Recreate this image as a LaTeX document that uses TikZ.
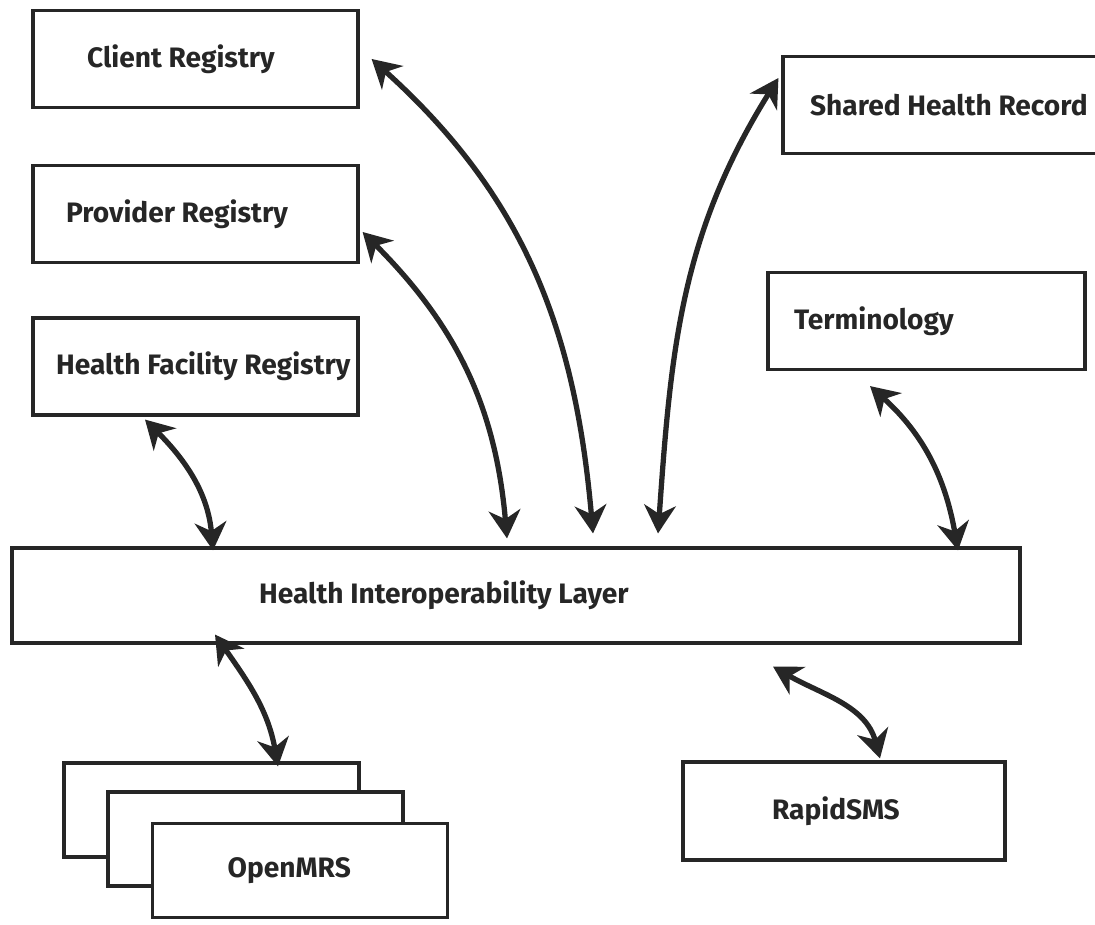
\documentclass[tikz,border=0pt]{standalone}
\usepackage{fontspec}
\setmainfont{Fira Sans}
\usetikzlibrary{arrows.meta,positioning}
\begin{document}
\begin{tikzpicture}[
  box/.style={draw=black!85, line width=0.9pt, minimum width=3.25cm, minimum height=0.97cm, inner sep=0pt},
  lbl/.style={font=\bfseries\fontsize{8}{9}\selectfont, text=black!85, inner sep=0pt},
  link/.style={line width=1.5pt, draw=black!85, {Stealth[length=8pt,width=9pt,inset=2.5pt]}-{Stealth[length=8pt,width=9pt,inset=2.5pt]}}
]
\useasboundingbox (0,0) rectangle (10.95,9.25);
\clip (0,0) rectangle (10.95,9.25);
% registries on the left
\node[box] (client) at (1.955,8.66) {};
\node[box] (provider) at (1.955,7.11) {};
\node[box] (facility) at (1.955,5.585) {};
\node[lbl, right=0.55cm of client.west] {Client Registry};
\node[lbl, right=0.34cm of provider.west] {Provider Registry};
\node[lbl, right=0.24cm of facility.west] {Health Facility Registry};
% right hand side
\node[box, minimum width=3.3cm] (shr) at (9.48,8.2) {};
\node[box, minimum width=3.17cm] (term) at (9.265,6.04) {};
\node[lbl, right=0.28cm of shr.west] {Shared Health Record};
\node[lbl, right=0.27cm of term.west] {Terminology};
% the layer
\node[box, minimum width=10.08cm, minimum height=0.95cm] (hil) at (5.16,3.295) {};
\node[lbl, right=2.48cm of hil.west] {Health Interoperability Layer};
% point of care systems
\foreach \i/\x/\y in {1/2.115/1.15, 2/2.555/0.86, 3/3.0/0.545} % edit here for the stack
\node[box, fill=white, minimum width=2.95cm, minimum height=0.94cm] (mrs\i) at (\x,\y) {};
\node[lbl, right=0.76cm of mrs3.west] {OpenMRS};
\node[box, minimum width=3.22cm, minimum height=0.98cm] (sms) at (8.44,1.14) {};
\node[lbl, right=0.9cm of sms.west] {RapidSMS};
% connectors
\draw[link] ([xshift=-0.505cm,yshift=-0.03cm]facility.south) to[out=-45,in=95] ([xshift=-3.03cm,yshift=-0.04cm]hil.north);
\draw[link] ([xshift=0.03cm,yshift=-0.18cm]provider.east) to[out=-45,in=95] ([xshift=-0.09cm,yshift=0.08cm]hil.north);
\draw[link] ([xshift=0.12cm]client.east) to[out=-42,in=95] ([xshift=0.77cm,yshift=0.13cm]hil.north);
\draw[link] ([xshift=-0.03cm,yshift=0.27cm]shr.west) to[out=-122,in=86] ([xshift=1.42cm,yshift=0.13cm]hil.north);
\draw[link] ([xshift=-0.565cm,yshift=-0.15cm]term.south) to[out=-42,in=100] ([xshift=4.42cm,yshift=-0.04cm]hil.north);
\draw[link] ([xshift=-3.01cm,yshift=0.1cm]hil.south) to[out=-55,in=100] ([xshift=0.665cm,yshift=-0.05cm]mrs1.north);
\draw[link] ([xshift=2.57cm,yshift=-0.22cm]hil.south) to[out=-30,in=105] ([xshift=0.36cm,yshift=0.02cm]sms.north);
\end{tikzpicture}
\end{document}
